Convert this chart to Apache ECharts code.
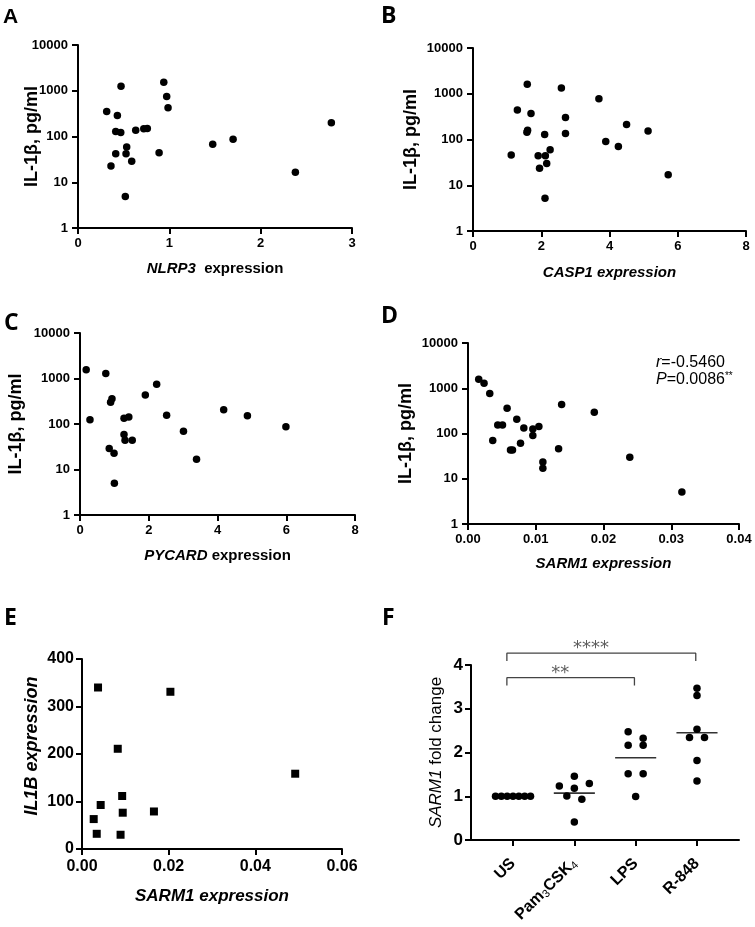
<!DOCTYPE html>
<html><head><meta charset="utf-8">
<script src="https://cdn.jsdelivr.net/npm/echarts@6/dist/echarts.min.js"></script>
<style>html,body{margin:0;padding:0;background:#fff}#c{width:755px;height:927px}</style>
</head><body><div id="c"></div>
<script>
// ---------- DATA ----------
// Panel A: NLRP3 expression vs IL-1beta (pg/ml)
const nlrp3X = [0.314,0.361,0.413,0.413,0.431,0.468,0.471,0.518,0.526,0.533,0.588,0.632,0.720,0.759,0.888,0.939,0.971,0.986,1.475,1.698,2.380,2.774];
const nlrp3Y = [351,22.7,128,42,287,122,1260,4.9,42,59,28.8,137,147,149,44,1542,747,423,68,87,16.5,201];
// Panel B: CASP1 expression
const casp1X = [1.12,1.30,1.59,1.58,1.60,1.70,1.91,1.95,2.10,2.12,2.11,2.16,2.26,2.59,2.71,2.71,3.69,3.89,4.26,4.50,5.13,5.72];
const casp1Y = [46,444,1622,144,160,369,44,23.5,128,44,5.2,30,60,1330,301,135,773,90,70,212,154,17];
// Panel C: PYCARD expression
const pycardX = [0.18,0.29,0.75,0.93,0.89,1.28,1.42,1.28,1.31,1.52,1.90,2.23,2.52,3.01,4.18,4.87,5.99,0.85,0.99,1.00,3.39];
const pycardY = [1549,124,1290,358,299,133,142,59,44,44,432,752,155,69,206,152,87,29,22.8,5.0,16.9];
// Panel D: SARM1 expression
const sarm1X = [0.00158,0.00237,0.00321,0.00577,0.0072,0.00439,0.00509,0.00824,0.00957,0.01046,0.00957,0.01382,0.01864,0.00365,0.00627,0.00657,0.00775,0.01105,0.01105,0.01337,0.02388,0.03157];
const sarm1Y = [1589,1297,763,363,207,155,155,133,126,142,90,436,296,70,43,43,61,23.5,17,46,29.9,5.1];
const corrText = ['-0.5460', '0.0086', '**'];
// Panel E: SARM1 expression vs IL1B expression
const eSarm1X = [0.0037,0.0204,0.00825,0.0492,0.00927,0.00431,0.0094,0.0166,0.0027,0.0034,0.0089];
const eIl1bY = [340,331,211,158.5,111.6,92.6,76.4,79,63,32,30];
// Panel F: SARM1 fold change by stimulus
const fCategories = ['US','Pam3CSK4','LPS','R-848'];
const fUS   = [1,1,1,1,1,1,1];
const fPam  = [1.234,1.007,1.455,1.182,0.932,1.289,0.409];
const fLPS  = [2.477,2.325,2.166,2.166,1.516,1.516,0.993];
const fR848 = [3.470,3.302,2.530,2.341,2.341,1.818,1.348];
const fComparisons = [[0,2,'**'],[0,3,'****']];

// ---------- HELPERS ----------
const FONT = 'Liberation Sans';
const zip = (a,b) => a.map((v,i)=>[v,b[i]]);
const axLine = {show:true,onZero:false,lineStyle:{color:'#000',width:2}};
const axTick = {show:true,length:6,lineStyle:{color:'#000',width:2}};

function xAx(gi,min,max,interval,name,gap,opt){
  opt = opt||{};
  return Object.assign({type:'value',gridIndex:gi,min:min,max:max,interval:interval,
    axisLine:axLine,axisTick:axTick,splitLine:{show:false},
    axisLabel:{color:'#000',fontFamily:FONT,fontWeight:'bold',fontSize:opt.fs||13,margin:opt.margin||9,
      formatter:opt.fmt||(v=>String(v))},
    name:name,nameLocation:'middle',nameGap:gap,nameMoveOverlap:false,
    nameTextStyle:{color:'#000',fontFamily:FONT,fontWeight:'bold',fontStyle:opt.italic?'italic':'normal',fontSize:opt.nfs||15,
      rich:{i:{fontFamily:FONT,fontWeight:'bold',fontStyle:'italic',fontSize:opt.nfs||15,color:'#000'}}}},opt.extra||{});
}
function logY(gi,gap){
  return {type:'log',logBase:10,gridIndex:gi,min:1,max:10000,
    axisLine:axLine,axisTick:axTick,splitLine:{show:false},minorTick:{show:false},
    axisLabel:{color:'#000',fontFamily:FONT,fontWeight:'bold',fontSize:13,margin:10,formatter:v=>String(Math.round(v))},
    name:'IL-1β, pg/ml',nameLocation:'middle',nameGap:gap,nameMoveOverlap:false,
    nameTextStyle:{color:'#000',fontFamily:FONT,fontWeight:'bold',fontSize:18}};
}
function dots(gi,data,sym,size){
  return {type:'scatter',xAxisIndex:gi,yAxisIndex:gi,data:data,symbol:sym||'circle',symbolSize:size||7.5,
    itemStyle:{color:'#000',opacity:1},silent:true,z:5};
}

// beeswarm layout for panel F (px scales derived from grid)
const F_GRID = {left:471,top:665,width:268,height:175};
const F_MIN = -0.685, F_MAX = 3.685;
const PXX = F_GRID.width/(F_MAX-F_MIN), PXY = F_GRID.height/4;
function swarm(vals, c){
  const idx = vals.map((v,i)=>i).sort((a,b)=>vals[b]-vals[a]);
  const rows=[];
  idx.forEach(i=>{
    const last=rows[rows.length-1];
    if(last && (last.start-vals[i])*PXY < 6.9) last.ids.push(i);
    else rows.push({start:vals[i],ids:[i]});
  });
  const pts=[];
  rows.forEach(r=>{
    r.ids.sort((a,b)=>a-b);
    const n=r.ids.length, s=n>1?Math.min(15,35/(n-1)):0;
    r.ids.forEach((i,k)=>pts.push([c+(k-(n-1)/2)*s/PXX, vals[i]]));
  });
  return pts;
}
const mean = a => a.reduce((s,v)=>s+v,0)/a.length;
const fGroups = [fUS,fPam,fLPS,fR848];

const series = [
  dots(0,zip(nlrp3X,nlrp3Y)),
  dots(1,zip(casp1X,casp1Y)),
  dots(2,zip(pycardX,pycardY)),
  dots(3,zip(sarm1X,sarm1Y)),
  dots(4,zip(eSarm1X,eIl1bY),'rect',8)
];
fGroups.forEach((g,c)=>{
  const m=mean(g);
  series.push({type:'line',xAxisIndex:5,yAxisIndex:5,data:[[c-0.335,m],[c+0.335,m]],symbol:'none',
    lineStyle:{color:'#333',width:1.6},silent:true,z:3});
  series.push(dots(5,swarm(g,c),'circle',7.5));
});
fComparisons.forEach((cmp,k)=>{
  const yTop=3.71+k*0.56, yEnd=yTop-0.18, x1=cmp[0]-0.1, x2=cmp[1]-0.02;
  series.push({type:'line',xAxisIndex:5,yAxisIndex:5,clip:false,symbol:'none',silent:true,
    data:[[x1,yEnd],[x1,yTop],[x2,yTop],[x2,yEnd]],lineStyle:{color:'#444',width:1.3},z:3});
  series.push({type:'scatter',xAxisIndex:5,yAxisIndex:5,clip:false,symbolSize:0,silent:true,
    data:[[(x1+x2)/2-0.17,yTop+0.1]],
    label:{show:true,position:'inside',formatter:cmp[2],color:'#333',fontFamily:'DejaVu Sans',fontSize:18}});
});

const catLabel = v => {
  const n=fCategories[Math.round(v)];
  if(n==='Pam3CSK4') return '{b|Pam}{s|3}{b|CSK}{s|4}';
  return '{b|'+n+'}';
};

const option = {
  backgroundColor:'#fff',
  animation:false,
  grid:[
    {left:78,top:45,width:274,height:183,outerBoundsMode:'none'},
    {left:473,top:48,width:273,height:183,outerBoundsMode:'none'},
    {left:80,top:333,width:275,height:182,outerBoundsMode:'none'},
    {left:468,top:343,width:271,height:181,outerBoundsMode:'none'},
    {left:82,top:659,width:260,height:190,outerBoundsMode:'none'},
    Object.assign({outerBoundsMode:'none'},F_GRID)
  ],
  xAxis:[
    xAx(0,0,3,1,'{i|NLRP3}  expression',33),
    xAx(1,0,8,2,'CASP1 expression',34,{italic:true}),
    xAx(2,0,8,2,'{i|PYCARD} expression',33),
    xAx(3,0,0.04,0.01,'SARM1 expression',32,{italic:true,fmt:v=>v.toFixed(2)}),
    xAx(4,0,0.06,0.02,'SARM1 expression',39,{italic:true,fs:16,nfs:17,margin:10,fmt:v=>v.toFixed(2)}),
    {type:'value',gridIndex:5,min:F_MIN,max:F_MAX,axisLine:axLine,splitLine:{show:false},
      axisTick:{show:true,length:6,lineStyle:{color:'#000',width:2},customValues:[0,1,2,3]},
      axisLabel:{customValues:[0,1,2,3],rotate:45,margin:21,formatter:catLabel,
        rich:{b:{fontFamily:FONT,fontWeight:'bold',fontSize:16,color:'#000',lineHeight:18},
              s:{fontFamily:FONT,fontSize:11,color:'#000',verticalAlign:'bottom',lineHeight:12}}}}
  ],
  yAxis:[
    logY(0,37), logY(1,53), logY(2,55), logY(3,53),
    {type:'value',gridIndex:4,min:0,max:400,interval:100,axisLine:axLine,axisTick:axTick,splitLine:{show:false},
      axisLabel:{color:'#000',fontFamily:FONT,fontWeight:'bold',fontSize:16,margin:8},
      name:'IL1B expression',nameLocation:'middle',nameGap:41,nameMoveOverlap:false,
      nameTextStyle:{color:'#000',fontFamily:FONT,fontWeight:'bold',fontStyle:'italic',fontSize:18,padding:[0,0,0,16]}},
    {type:'value',gridIndex:5,min:0,max:4,interval:1,axisLine:axLine,axisTick:axTick,splitLine:{show:false},
      axisLabel:{color:'#000',fontFamily:FONT,fontWeight:'bold',fontSize:17,margin:8},
      name:'{i|SARM1} fold change',nameLocation:'middle',nameGap:26,nameMoveOverlap:false,
      nameTextStyle:{color:'#000',fontFamily:FONT,fontSize:17,
        rich:{i:{fontFamily:FONT,fontStyle:'italic',fontSize:17,color:'#000'}}}}
  ],
  graphic:[
    {type:'text',x:3,y:17.5,style:{text:'A',fill:'#000',font:'bold 21px "Liberation Sans"',textVerticalAlign:'middle'}},
    {type:'text',x:381,y:16.7,style:{text:'B',fill:'#000',font:'bold 23px "Open Sans"',textVerticalAlign:'middle'}},
    {type:'text',x:4,y:323.3,style:{text:'C',fill:'#000',font:'bold 23px "Open Sans"',textVerticalAlign:'middle'}},
    {type:'text',x:381,y:316.5,style:{text:'D',fill:'#000',font:'bold 23px "Open Sans"',textVerticalAlign:'middle'}},
    {type:'text',x:4,y:618.3,style:{text:'E',fill:'#000',font:'bold 23px "Open Sans"',textVerticalAlign:'middle'}},
    {type:'text',x:382,y:618.3,style:{text:'F',fill:'#000',font:'bold 23px "Open Sans"',textVerticalAlign:'middle'}},
    {type:'text',x:656,y:362.7,style:{text:'{i|r}=' + corrText[0],fill:'#000',font:'16px "Liberation Sans"',textVerticalAlign:'middle',
      rich:{i:{fontFamily:FONT,fontStyle:'italic',fontSize:16,fill:'#000'}}}},
    {type:'text',x:656,y:379.3,style:{text:'{i|P}=' + corrText[1] + '{s|' + corrText[2] + '}',fill:'#000',font:'16px "Liberation Sans"',textVerticalAlign:'middle',
      rich:{i:{fontFamily:FONT,fontStyle:'italic',fontSize:16,fill:'#000'},s:{fontFamily:FONT,fontSize:10,fill:'#000',verticalAlign:'top'}}}}
  ],
  series:series
};
const chart = echarts.init(document.getElementById('c'));
chart.setOption(option);
</script></body></html>
